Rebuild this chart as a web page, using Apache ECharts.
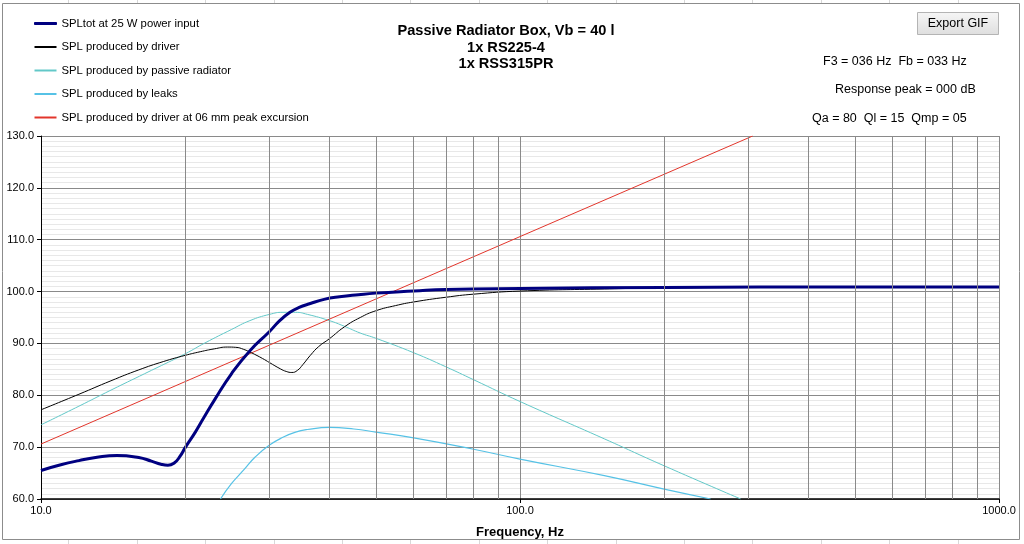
<!DOCTYPE html>
<html>
<head>
<meta charset="utf-8">
<script src="https://cdn.jsdelivr.net/npm/echarts@6/dist/echarts.min.js"></script>
<style>
  html, body { margin: 0; padding: 0; background: #fff; }
  #chart { width: 1024px; height: 544px; }
</style>
</head>
<body>
<div id="chart"></div>
<script>
// 曲线数据 [频率 Hz, dB]
var splTot = [
    [10, 65.5], [11, 66.6], [12, 67.4], [13, 68.0], [14.4, 68.4], [16, 68.0], [17, 67.3],
    [17.8, 66.7], [18.4, 66.5], [19, 67.0], [19.5, 68.2], [20, 69.9], [21, 72.9], [21.85, 75.6],
    [23.1, 79.3], [25, 84.2], [27.3, 88.6], [30, 92.3], [31.5, 94.4], [33.1, 96.0],
    [34.5, 96.9], [36.5, 97.7], [39, 98.5], [42, 99.0], [46, 99.4], [50, 99.7], [60, 100.1],
    [70, 100.4], [100, 100.6], [200, 100.8], [500, 100.9], [1000, 100.9]
];
var splDriver = [
    [10, 77.2], [12, 80.2], [14, 82.8], [16, 84.9], [18, 86.5], [20, 87.7], [21.5, 88.4],
    [23, 88.95], [24.5, 89.3], [25.5, 89.25], [26.5, 88.85], [27.5, 88.2], [29, 87.1],
    [30, 86.3], [31.6, 85.1], [32.5, 84.6], [33.4, 84.4], [34.3, 84.8], [35.2, 85.9],
    [36.5, 87.7], [38, 89.4], [40, 90.9], [43, 93.2], [46.4, 95.0], [50, 96.3], [55, 97.3],
    [60, 98.0], [70, 98.9], [80, 99.5], [100, 100.1], [150, 100.5], [200, 100.7], [500, 100.9],
    [1000, 100.9]
];
var splPassive = [
    [10, 74.3], [12, 77.9], [14, 81.0], [17, 84.8], [20, 88.0], [22, 90.1], [25, 92.7],
    [27.3, 94.4], [30, 95.6], [32, 96.0], [34, 96.0], [36, 95.6], [40, 94.4], [43, 93.3],
    [46.4, 92.0], [50, 91.0], [60, 88.2], [70, 85.5], [80, 83.0], [100, 78.8], [150, 71.6],
    [200, 66.4], [289, 60.0]
];
var splLeaks = [
    [23.7, 60.0], [25, 63.0], [26.5, 65.6], [28, 68.1], [30, 70.4], [32, 71.9], [34, 72.9],
    [36, 73.4], [40, 73.8], [45, 73.5], [50, 72.9], [60, 71.8], [80, 69.6], [100, 67.7],
    [150, 64.5], [200, 61.9], [250, 60.0]
];
var splExcursion = [[10, 70.6], [100, 110.6], [306, 130.0]];

var seriesNames = [
    'SPLtot at 25 W power input',
    'SPL produced by driver',
    'SPL produced by passive radiator',
    'SPL produced by leaks',
    'SPL produced by driver at 06 mm peak excursion'
];
// 对数轴上的竖向网格 20..90, 200..900
var vGridFreqs = [20, 30, 40, 50, 60, 70, 80, 90, 200, 300, 400, 500, 600, 700, 800, 900];
var xTickLabels = [10, 100, 1000];

var infoLines = [
    'F3 = 036 Hz  Fb = 033 Hz',
    'Response peak = 000 dB',
    'Qa = 80  Ql = 15  Qmp = 05'
];

var FONT = '"Liberation Sans", Arial, sans-serif';

// excel 单元格边线
var cellLines = [];
for (var k = 1; k <= 14; k++) {
    var cx = Math.round(68.4 * k) + 0.5;
    cellLines.push({ type: 'line', silent: true, shape: { x1: cx, y1: 0, x2: cx, y2: 3 }, style: { stroke: '#d8d8d8', lineWidth: 1 } });
    cellLines.push({ type: 'line', silent: true, shape: { x1: cx, y1: 540, x2: cx, y2: 544 }, style: { stroke: '#d8d8d8', lineWidth: 1 } });
}

function mkSeries(name, data, color, width) {
    return {
        name: name,
        type: 'line',
        data: data,
        symbol: 'none',
        showSymbol: false,
        smooth: 0.5,
        z: 3,
        lineStyle: { color: color, width: width },
        itemStyle: { color: color },
        animation: false
    };
}

var redSeries = mkSeries(seriesNames[4], splExcursion, '#e2352b', 1);
redSeries.smooth = false;

var legendColors = ['#000080', '#000000', '#62c8c8', '#56c2e6', '#e2352b'];

var option = {
    animation: false,
    textStyle: { fontFamily: FONT },
    grid: { left: 41, right: 25, top: 136, bottom: 45 },
    legend: {
        orient: 'vertical',
        left: 34,
        top: 17,
        padding: 0,
        icon: 'rect',
        itemWidth: 22,
        itemHeight: 2,
        itemGap: 10.5,
        data: seriesNames.map(function (n, i) {
            var it = { name: n, itemStyle: { color: legendColors[i], borderWidth: 0 } };
            if (i === 0) it.itemStyle = { color: legendColors[i], borderColor: legendColors[i], borderWidth: 1 };
            return it;
        }),
        textStyle: { fontFamily: FONT, fontSize: 11.3, color: '#000', lineHeight: 13 }
    },
    xAxis: {
        type: 'log',
        logBase: 10,
        min: 10,
        max: 1000,
        name: 'Frequency, Hz',
        nameLocation: 'middle',
        nameGap: 27,
        nameTextStyle: { fontFamily: FONT, fontSize: 13, fontWeight: 'bold', color: '#000' },
        axisLine: { lineStyle: { color: '#000', width: 1.5 } },
        axisTick: { show: true, length: 4, lineStyle: { color: '#000' } },
        axisLabel: {
            fontFamily: FONT, fontSize: 11, color: '#000', margin: 6,
            formatter: function (v) { return xTickLabels.indexOf(Math.round(v)) >= 0 ? Number(v).toFixed(1) : ''; }
        },
        splitLine: { show: true, lineStyle: { color: '#8a8a8a', width: 1 } },
        minorTick: { show: false },
        minorSplitLine: { show: false }
    },
    yAxis: {
        type: 'value',
        min: 60,
        max: 130,
        interval: 10,
        axisLine: { show: true, lineStyle: { color: '#000', width: 1 } },
        axisTick: { show: true, length: 4, lineStyle: { color: '#000' } },
        axisLabel: {
            fontFamily: FONT, fontSize: 11, color: '#000', margin: 7,
            formatter: function (v) { return v.toFixed(1); }
        },
        splitLine: { show: true, lineStyle: { color: '#8a8a8a', width: 1 } },
        minorTick: { show: false, splitNumber: 10 },
        minorSplitLine: { show: true, lineStyle: { color: '#e8e8e8', width: 1 } }
    },
    series: [
        {
            name: 'vgrid',
            type: 'line',
            data: [],
            z: 1,
            silent: true,
            markLine: {
                silent: true,
                symbol: ['none', 'none'],
                label: { show: false },
                animation: false,
                lineStyle: { color: '#8a8a8a', width: 1, type: 'solid' },
                data: vGridFreqs.map(function (f) { return { xAxis: f }; })
            }
        },
        mkSeries(seriesNames[2], splPassive, '#62c8c8', 1),
        mkSeries(seriesNames[3], splLeaks, '#56c2e6', 1.2),
        redSeries,
        mkSeries(seriesNames[1], splDriver, '#000000', 1),
        mkSeries(seriesNames[0], splTot, '#000080', 3)
    ],
    graphic: cellLines.concat([
        {
            type: 'rect', silent: true, z: -1,
            shape: { x: 2.5, y: 3.5, width: 1017, height: 536 },
            style: { fill: 'none', stroke: '#8c8c8c', lineWidth: 1 }
        },
        {
            type: 'text', x: 506, y: 31,
            style: { text: 'Passive Radiator Box, Vb = 40 l', font: 'bold 14.6px ' + FONT, fill: '#000', textAlign: 'center', textVerticalAlign: 'middle' }
        },
        {
            type: 'text', x: 506, y: 47.8,
            style: { text: '1x RS225-4', font: 'bold 14.6px ' + FONT, fill: '#000', textAlign: 'center', textVerticalAlign: 'middle' }
        },
        {
            type: 'text', x: 506, y: 64.3,
            style: { text: '1x RSS315PR', font: 'bold 14.6px ' + FONT, fill: '#000', textAlign: 'center', textVerticalAlign: 'middle' }
        },
        {
            type: 'text', x: 823, y: 62,
            style: { text: infoLines[0], font: '12.5px ' + FONT, fill: '#000', textVerticalAlign: 'middle' }
        },
        {
            type: 'text', x: 835, y: 90,
            style: { text: infoLines[1], font: '12.5px ' + FONT, fill: '#000', textVerticalAlign: 'middle' }
        },
        {
            type: 'text', x: 812, y: 119,
            style: { text: infoLines[2], font: '12.5px ' + FONT, fill: '#000', textVerticalAlign: 'middle' }
        },
        // Export GIF 按钮
        {
            type: 'rect',
            shape: { x: 917.5, y: 12.5, width: 81, height: 22 },
            style: {
                fill: new echarts.graphic.LinearGradient(0, 0, 0, 1, [
                    { offset: 0, color: '#f6f6f6' },
                    { offset: 1, color: '#dedede' }
                ]),
                stroke: '#b4b4b4', lineWidth: 1
            }
        },
        {
            type: 'text', x: 958, y: 23.5, z: 10,
            style: { text: 'Export GIF', font: '12.5px ' + FONT, fill: '#000', textAlign: 'center', textVerticalAlign: 'middle' }
        }
    ])
};

var chart = echarts.init(document.getElementById('chart'));
chart.setOption(option);
</script>
</body>
</html>
